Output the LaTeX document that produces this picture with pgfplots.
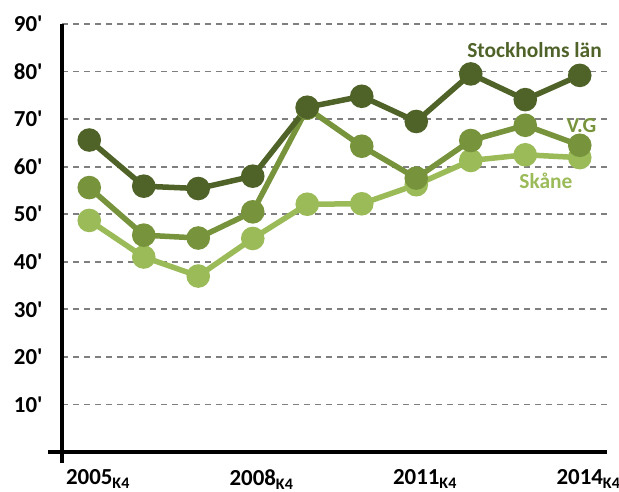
\documentclass[border=0pt]{standalone}
\usepackage{pgfplots}
\pgfplotsset{compat=1.18}
\usepackage{fontspec}
\setmainfont{Carlito}[Ligatures=TeXOff]
\definecolor{sthlm}{HTML}{4F6228}
\definecolor{vg}{HTML}{77933C}
\definecolor{skane}{HTML}{9BBB59}
\definecolor{gridgray}{HTML}{7F7F7F}
\begin{document}
\begin{tikzpicture}
\begin{axis}[
  scale only axis, width=545bp, height=428bp,
  xmin=2004.5, xmax=2014.5, ymin=0, ymax=90,
  axis lines*=left,
  x axis line style={-, line width=3bp, shorten <=-14bp},
  y axis line style={-, line width=3bp, shorten <=-11bp},
  xtick={2005,2008,2011,2014},
  xticklabels={2005\rlap{\textsubscript{K4}},2008\rlap{\textsubscript{K4}},2011\rlap{\textsubscript{K4}},2014\rlap{\textsubscript{K4}}},
  ytick={10,20,...,90},
  yticklabels={10',20',30',40',50',60',70',80',90'},
  major tick length=0pt,
  ymajorgrids,
  major grid style={gridgray, line width=1.8bp, dash pattern=on 6bp off 5bp},
  tick label style={font=\fontsize{23}{27}\selectfont\bfseries},
  xticklabel style={anchor=north, yshift=-14bp},
  yticklabel style={anchor=east, xshift=-16bp},
  clip=false,
  every axis plot/.append style={line width=5.5bp, mark=*, mark size=9bp},
]
\addplot[skane, mark options={fill=skane}] coordinates {
  (2005,48.7) (2006,41.0) (2007,37.0) (2008,44.9) (2009,52.1)
  (2010,52.2) (2011,56.2) (2012,61.3) (2013,62.5) (2014,61.9)};
\addplot[vg, mark options={fill=vg}] coordinates {
  (2005,55.6) (2006,45.6) (2007,45.0) (2008,50.5) (2009,72.3)
  (2010,64.3) (2011,57.6) (2012,65.5) (2013,68.7) (2014,64.5)};
\addplot[sthlm, mark options={fill=sthlm}] coordinates {
  (2005,65.6) (2006,55.9) (2007,55.4) (2008,58.0) (2009,72.5)
  (2010,74.8) (2011,69.5) (2012,79.5) (2013,74.1) (2014,79.2)};
\node[sthlm, font=\fontsize{21.5}{25}\selectfont\bfseries] at (axis cs:2013.17,84.5) {Stockholms län};
\node[vg, font=\fontsize{21.5}{25}\selectfont\bfseries] at (axis cs:2014.03,68.7) {V.G};
\node[skane, font=\fontsize{21.5}{25}\selectfont\bfseries] at (axis cs:2013.38,57.0) {Skåne};
\end{axis}
\pgfresetboundingbox
\path[use as bounding box] (-62bp,-40bp) rectangle (557bp,452bp);
\end{tikzpicture}
\end{document}
